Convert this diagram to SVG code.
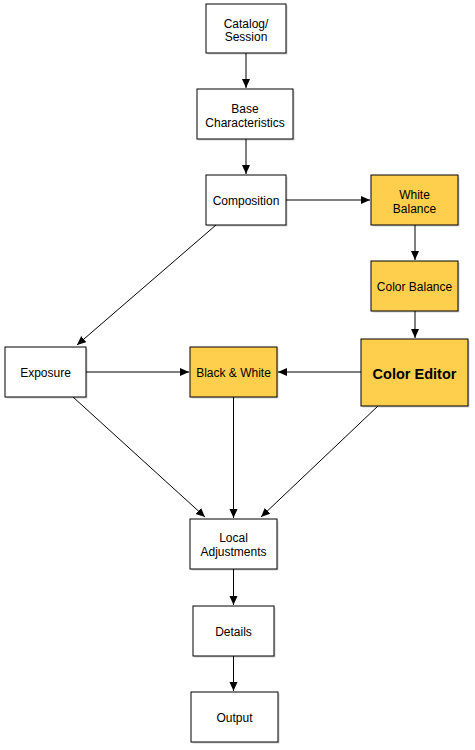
<svg xmlns="http://www.w3.org/2000/svg" width="475" height="750" viewBox="0 0 475 750">
<style>
.box{stroke:#000;stroke-width:1;fill:#fff}
.y{fill:#fecf4c}
.sh{fill:#000;opacity:0.18}
text{font-family:"Liberation Sans",Arial,sans-serif;font-size:12px;fill:#000;text-anchor:middle}
.b{font-weight:bold;font-size:14.5px}
.c{stroke:#000;stroke-width:1;fill:none;marker-end:url(#ah)}
</style>
<defs>
<marker id="ah" markerUnits="userSpaceOnUse" markerWidth="10" markerHeight="10" refX="9" refY="4" orient="auto">
<path d="M0,0 L9,4 L0,8 Z" fill="#000"/>
</marker>
</defs>
<rect width="475" height="750" fill="#fff"/>
<g id="connectors">
<line class="c" x1="246" y1="53" x2="246" y2="88"/>
<line class="c" x1="246" y1="139" x2="246" y2="174"/>
<line class="c" x1="286" y1="200" x2="370" y2="200"/>
<line class="c" x1="415" y1="225" x2="415" y2="260"/>
<line class="c" x1="415" y1="311" x2="415" y2="338"/>
<line class="c" x1="216" y1="225" x2="77" y2="345"/>
<line class="c" x1="86" y1="372" x2="189" y2="372"/>
<line class="c" x1="361" y1="372" x2="278" y2="372"/>
<line class="c" x1="73" y1="397" x2="205" y2="517"/>
<line class="c" x1="233.5" y1="397" x2="233.5" y2="518"/>
<line class="c" x1="378" y1="406" x2="261" y2="517"/>
<line class="c" x1="233.5" y1="569" x2="233.5" y2="605"/>
<line class="c" x1="233.5" y1="656" x2="233.5" y2="691"/>
</g>
<g id="catalog">
<rect class="sh" x="207.5" y="5.5" width="80" height="49"/>
<rect class="box" x="206" y="4" width="80" height="49"/>
<text x="246" y="28">Catalog/</text>
<text x="246" y="41">Session</text>
</g>
<g id="base">
<rect class="sh" x="198.5" y="90.5" width="96" height="50"/>
<rect class="box" x="197" y="89" width="96" height="50"/>
<text x="245" y="113">Base</text>
<text x="245" y="127">Characteristics</text>
</g>
<g id="composition">
<rect class="sh" x="207.5" y="176.5" width="80" height="50"/>
<rect class="box" x="206" y="175" width="80" height="50"/>
<text x="246" y="205">Composition</text>
</g>
<g id="whitebalance">
<rect class="sh" x="372.5" y="176.5" width="87" height="50"/>
<rect class="box y" x="371" y="175" width="87" height="50"/>
<text x="414.5" y="199">White</text>
<text x="414.5" y="213">Balance</text>
</g>
<g id="colorbalance">
<rect class="sh" x="372.5" y="262.5" width="87" height="50"/>
<rect class="box y" x="371" y="261" width="87" height="50"/>
<text x="414.5" y="291">Color Balance</text>
</g>
<g id="coloreditor">
<rect class="sh" x="362.5" y="340.5" width="107" height="67"/>
<rect class="box y" x="361" y="339" width="107" height="67"/>
<text class="b" x="414.5" y="379">Color Editor</text>
</g>
<g id="blackwhite">
<rect class="sh" x="191.5" y="348.5" width="87" height="50"/>
<rect class="box y" x="190" y="347" width="87" height="50"/>
<text x="233.5" y="377">Black &amp; White</text>
</g>
<g id="exposure">
<rect class="sh" x="6.5" y="348.5" width="81" height="50"/>
<rect class="box" x="5" y="347" width="81" height="50"/>
<text x="45.5" y="377">Exposure</text>
</g>
<g id="local">
<rect class="sh" x="191.5" y="520.5" width="87" height="50"/>
<rect class="box" x="190" y="519" width="87" height="50"/>
<text x="233.5" y="542">Local</text>
<text x="233.5" y="556">Adjustments</text>
</g>
<g id="details">
<rect class="sh" x="194.5" y="607.5" width="81" height="50"/>
<rect class="box" x="193" y="606" width="81" height="50"/>
<text x="233.5" y="636">Details</text>
</g>
<g id="output">
<rect class="sh" x="192.5" y="693.5" width="87" height="50"/>
<rect class="box" x="191" y="692" width="87" height="50"/>
<text x="234.5" y="722">Output</text>
</g>
</svg>
